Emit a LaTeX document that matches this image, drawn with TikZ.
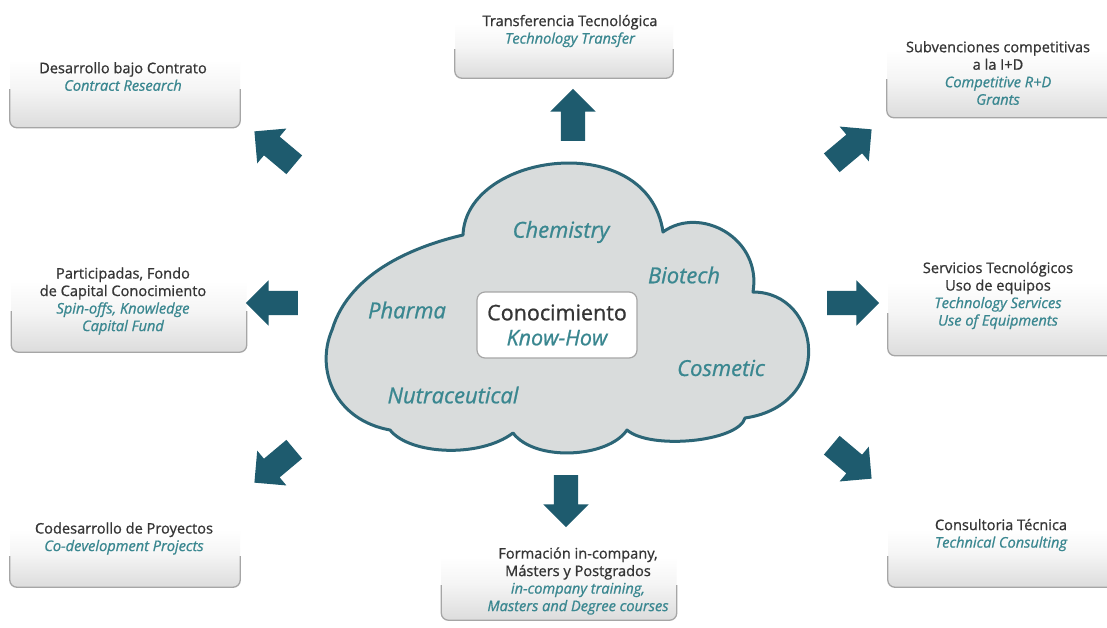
\documentclass[tikz,border=0pt]{standalone}
\usepackage{fontspec}
\setmainfont{Open Sans}[UprightFeatures={FakeBold=0.9}, ItalicFeatures={FakeBold=0.9}]
\usetikzlibrary{shapes.arrows}
\definecolor{arrowteal}{HTML}{1E5B6E}
\definecolor{textteal}{HTML}{3A8790}
\definecolor{cloudedge}{HTML}{2C6677}
\definecolor{cloudfill}{HTML}{D9DCDC}
\definecolor{darktext}{HTML}{353535}
\pgfdeclareverticalshading{boxshade}{100bp}{color(0bp)=(black!30); color(20bp)=(black!16); color(45bp)=(black!4); color(60bp)=(white); color(100bp)=(white)}
\newcommand{\engl}[1]{{\color{textteal}\itshape #1}}
\tikzset{
  box/.style={rectangle, rounded corners=7pt, shading=boxshade, draw=none},
  boxedge/.style={draw=black!35, line width=1.3pt, rounded corners=7pt},
  lbl/.style={align=center, font=\fontsize{14.6}{17.5}\selectfont, text=darktext, inner sep=0pt},
  cl/.style={font=\fontsize{22}{26}\selectfont\itshape, text=textteal, inner sep=0pt},
  blockarrow/.style={shape=single arrow, fill=arrowteal, draw=none, inner xsep=0pt, inner ysep=12pt,
     single arrow head extend=10.5pt, single arrow tip angle=90, minimum height=52pt},
}
\begin{document}
\begin{tikzpicture}[x=1pt,y=-1pt]
\useasboundingbox (0,0) rectangle (1107,627);
\fill[white] (0,0) rectangle (1107,627);
% boxes
\node[box, minimum width=230pt, minimum height=97pt] (btl) at (125,79) {};
\node[box, minimum width=218pt, minimum height=78pt] (btc) at (564,39) {};
\node[box, minimum width=230pt, minimum height=97pt] (btr) at (1002,69) {};
\node[box, minimum width=235pt, minimum height=102pt] (bml) at (129,301) {};
\node[box, minimum width=230pt, minimum height=105pt] (bmr) at (1003,303) {};
\node[box, minimum width=230pt, minimum height=82pt] (bbl) at (125,546) {};
\node[box, minimum width=235pt, minimum height=90pt] (bbc) at (559,575) {};
\node[box, minimum width=230pt, minimum height=82pt] (bbr) at (1003,546) {};
\foreach \b in {btl,btc,btr,bml,bmr,bbl,bbc,bbr}{
  \draw[boxedge] ([yshift=-10pt]\b.west) -- (\b.south west) -- (\b.south east) -- ([yshift=-10pt]\b.east);
}
% box texts
\node[lbl] (ttl) at (123,76.5) {Desarrollo bajo Contrato\\\engl{Contract Research}};
\node[lbl] (ttc) at (570,31) {Transferencia Tecnológica\\\engl{Technology Transfer}};
\node[lbl] (ttr) at (998,73) {Subvenciones competitivas\\a la I+D\\\engl{Competitive R+D}\\\engl{Grants}};
\node[lbl] (tml) at (123,301) {Participadas, Fondo\\de Capital Conocimiento\\\engl{Spin-offs, Knowledge}\\\engl{Capital Fund}};
\node[lbl] (tmr) at (998,295.5) {Servicios Tecnológicos\\Uso de equipos\\\engl{Technology Services}\\\engl{Use of Equipments}};
\node[lbl] (tbl) at (124,538.5) {Codesarrollo de Proyectos\\\engl{Co-development Projects}};
\node[lbl] (tbc) at (578,581) {Formación in-company,\\Másters y Postgrados\\\engl{in-company training,}\\\engl{Masters and Degree courses}};
\node[lbl] (tbr) at (1001,535) {Consultoria Técnica\\\engl{Technical Consulting}};
% cloud
\draw[draw=cloudedge, fill=cloudfill, line width=3pt, line join=round]
  (463,235) .. controls (466,152) and (648,128) .. (663,232)
  .. controls (700,205) and (762,238) .. (753,292)
  .. controls (822,292) and (835,405) .. (745,418)
  .. controls (738,442) and (650,450) .. (627,430)
  .. controls (608,458) and (535,462) .. (513,433)
  .. controls (480,458) and (410,455) .. (390,430)
  .. controls (335,420) and (315,370) .. (332,330)
  .. controls (350,270) and (420,245) .. (463,235) -- cycle;
\node[cl] (chem) at (561,232) {Chemistry};
\node[cl] (bio) at (684,275) {Biotech};
\node[cl] (pha) at (407,310) {Pharma};
\node[cl] (cos) at (721,368) {Cosmetic};
\node[cl] (nut) at (453,395) {Nutraceutical};
\node[draw=black!35, fill=white, rounded corners=8pt, line width=1.2pt, minimum width=160pt, minimum height=66pt,
      align=center, font=\fontsize{21.5}{25}\selectfont, text=darktext] (core) at (557,325) {Conocimiento\\\engl{Know-How}};
% arrows
\node[blockarrow, rotate=90] (an) at (573,121) {};
\node[blockarrow, rotate=140] (anw) at (279,152) {};
\node[blockarrow, rotate=40] (ane) at (847,150) {};
\node[blockarrow, rotate=180] (aw) at (278,303) {};
\node[blockarrow, rotate=0] (ae) at (847,303) {};
\node[blockarrow, rotate=220] (asw) at (279,462) {};
\node[blockarrow, rotate=270] (as) at (566,495) {};
\node[blockarrow, rotate=-40] (ase) at (847,458) {};
\end{tikzpicture}
\end{document}
